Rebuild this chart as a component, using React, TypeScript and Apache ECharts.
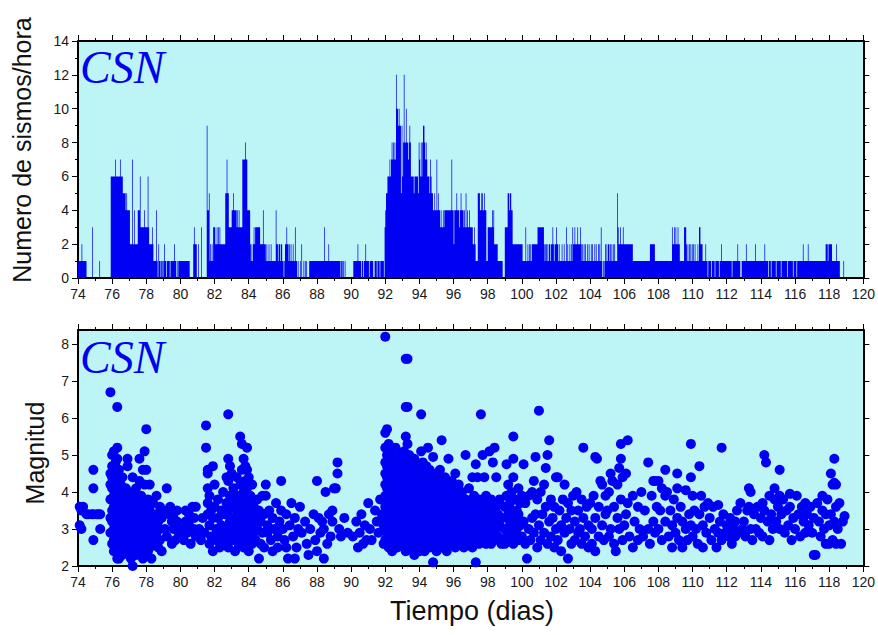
import React, { useEffect, useRef } from "react";
import * as echarts from "echarts";

// ---------- Histogram: earthquakes per hour (one string per day, 24 hourly counts, hex digits) ----------
const histFirstDay = 74;
const hourlyCountsByDay: string[] = [
  "111112111111000000003000", // 74
  "000000100000000000000066", // 75
  "666676666667666555545444", // 76
  "422272242222444633333433", // 77
  "336322223211114102110110", // 78
  "121101111011111211010111", // 79
  "111111111111100000232220", // 80
  "020003000000094451212133", // 81
  "322323232222222557553333", // 82
  "445444434343333777787744", // 83
  "442121232333333322224222", // 84
  "121121121111114221221221", // 85
  "101223221212112113110100", // 86
  "102001010100011111111111", // 87
  "111111111131111121111111", // 88
  "111111111011010100000000", // 89
  "000111111211110110112111", // 90
  "101111100111011101111103", // 91
  "455666767878787caa9a9959", // 92
  "68c88a887898666656666658", // 93
  "768689987876665765544544", // 94
  "745443433434444444444744", // 95
  "244454443454443435343343", // 96
  "333223211155544554454411", // 97
  "333333434222221111111000", // 98
  "333355455442222222222222", // 99
  "211113112121212222222233", // 100
  "333333321221212212232122", // 101
  "322121112112113121121213", // 102
  "223222322232121212112121", // 103
  "121211212112121310101212", // 104
  "122121212121115322322232", // 105
  "222222222222111111111111", // 106
  "111111111111222222211111", // 107
  "111111111111111111132232", // 108
  "322322111111333212121212", // 109
  "121211121332221111211011", // 110
  "110111101111101121111111", // 111
  "111111101111111211100111", // 112
  "111211111111111121111111", // 113
  "111112111101110111111011", // 114
  "111101111111101111111011", // 115
  "110111111112111111211111", // 116
  "111111111111111111122212", // 117
  "222211111121111000001000", // 118
];

// ---------- Scatter: magnitudes grouped by time (day, [magnitudes]) ----------
type Group = [number, number[]];
const quakes74to80: Group[] = [
  [74.1, [3.6, 3.1]], [74.2, [3.5, 3.0]], [74.3, [3.6]], [74.5, [3.4]], [74.6, [3.4]], [74.8, [3.4]],
  [74.9, [4.6, 4.1, 3.4, 2.7]], [75.1, [3.4]], [75.2, [3.4]], [75.3, [3.4, 3.0]],
  [75.9, [6.7, 4.5, 4.2, 3.8, 3.3, 2.9]],
  [76.0, [5.0, 4.7, 4.4, 4.1, 3.8, 3.5, 3.2, 2.9, 2.6]], [76.1, [5.1, 4.6, 4.3, 3.9, 3.6, 3.3, 3.0, 2.7, 2.4]],
  [76.2, [4.8, 4.5, 4.0, 3.7, 3.4, 3.1, 2.8, 2.5]], [76.3, [6.3, 5.2, 4.9, 4.4, 4.2, 3.8, 3.5, 3.2, 2.9, 2.6, 2.2]],
  [76.4, [4.6, 4.0, 3.6, 3.3, 3.0, 2.7, 2.4, 2.2]], [76.5, [4.2, 3.9, 3.4, 3.1, 2.8, 2.5]],
  [76.6, [4.4, 3.7, 3.2, 2.9, 2.6, 2.3]], [76.7, [3.9, 3.5, 3.0, 2.7, 2.4]], [76.8, [4.1, 3.6, 3.3, 2.8, 2.5]],
  [76.9, [4.9, 4.7, 3.8, 3.4, 3.0, 2.6]],
  [77.0, [4.0, 3.5, 3.1, 2.8, 2.4]], [77.1, [3.7, 3.3, 2.9, 2.6, 2.2]], [77.2, [4.4, 3.9, 3.2, 2.7, 2.0]],
  [77.3, [3.6, 3.0, 2.5]], [77.4, [4.1, 3.4, 2.8, 2.3]], [77.5, [3.8, 3.2, 2.9, 2.6]], [77.6, [4.9, 4.3, 3.6, 3.0, 2.5]],
  [77.7, [3.9, 3.3, 2.8, 2.4]], [77.8, [4.6, 3.5, 3.1, 2.2]], [77.9, [5.1, 4.2, 3.7, 2.9, 2.6]], [78.0, [5.7, 4.6, 3.4, 3.0, 2.7]],
  [78.1, [3.8, 3.2, 2.8, 2.4]], [78.2, [4.2, 3.5, 2.9, 2.5]], [78.3, [3.3, 3.0, 2.2]], [78.4, [3.7, 2.7]], [78.5, [3.1, 2.6]],
  [78.6, [3.9, 3.4, 2.9]], [78.7, [3.2, 2.5]], [78.8, [3.6, 3.0, 2.7]], [78.9, [3.3, 2.4]],
  [79.0, [3.5]], [79.1, [3.0]], [79.2, [4.1, 2.8]], [79.3, [3.4]], [79.4, [3.6]], [79.5, [3.2, 2.6]], [79.6, [3.0, 3.3]],
  [79.7, [2.7]], [79.8, [3.2, 3.5]], [79.9, [2.9]],
  [80.1, [3.0]], [80.2, [2.7]], [80.3, [3.5, 3.2]], [80.4, [2.9]], [80.5, [3.1, 3.4]], [80.6, [2.6]], [80.7, [3.6]],
  [80.8, [3.3, 3.0]], [80.9, [3.6, 2.8]],
];
const quakes81to91: Group[] = [
  [81.1, [3.0]], [81.2, [2.7]], [81.3, [3.3]], [81.4, [2.9]], [81.5, [5.8, 5.2]], [81.6, [4.6, 4.5, 4.1, 3.7, 3.4]],
  [81.7, [3.9, 3.1, 2.6]], [81.8, [3.5, 2.8]], [81.9, [4.7, 3.3, 2.4]],
  [82.0, [4.2, 3.6]], [82.1, [3.0, 2.7]], [82.2, [3.8, 3.3]], [82.3, [2.9, 2.5]], [82.4, [3.5, 3.1]], [82.5, [2.8, 4.0]],
  [82.6, [3.4, 2.6]], [82.7, [4.4, 3.7, 3.0]], [82.8, [6.1, 4.9, 4.3, 3.5, 2.5]], [82.9, [4.7, 3.9, 3.2, 2.8]],
  [83.0, [4.5, 3.6, 3.0]], [83.1, [4.1, 3.3, 2.7]], [83.2, [3.8, 3.1, 2.4]], [83.3, [4.4, 3.5, 2.9]], [83.4, [3.9, 3.2, 2.6]],
  [83.5, [5.5, 4.2, 3.7, 3.0]], [83.6, [5.3, 4.6, 3.4, 2.8]], [83.7, [4.9, 4.0, 3.6, 3.1, 2.5]],
  [83.8, [4.7, 4.3, 3.8, 3.3, 2.9]], [83.9, [5.2, 4.6, 4.1, 3.5, 3.0, 2.6]],
  [84.0, [4.4, 3.7, 3.2, 2.4]], [84.1, [3.9, 3.4, 2.8]], [84.2, [4.2, 3.1, 2.6]], [84.3, [3.6, 2.9]], [84.4, [3.3, 2.7]],
  [84.5, [3.8, 3.0]], [84.6, [3.5, 2.2]], [84.7, [3.2, 2.6]], [84.8, [3.9, 2.9]], [84.9, [3.4, 2.5]],
  [85.0, [4.2, 3.9]], [85.1, [3.1, 2.9]], [85.2, [3.5]], [85.3, [2.7]], [85.4, [3.3, 2.4]], [85.5, [3.0]], [85.6, [3.7]],
  [85.7, [2.8, 2.5]], [85.8, [3.2]], [85.9, [4.3, 3.5]],
  [86.0, [3.0]], [86.1, [2.7]], [86.2, [2.5, 3.4]], [86.3, [2.2]], [86.4, [3.1]], [86.5, [3.7]], [86.6, [2.8]],
  [86.7, [3.3, 2.2]], [86.8, [2.5]], [86.9, [3.0]],
  [87.0, [3.6]], [87.1, [2.9]], [87.3, [3.2]], [87.4, [2.6]], [87.5, [2.3]], [87.6, [3.0]], [87.8, [3.4]], [87.9, [2.7]],
  [88.0, [4.3, 2.4]], [88.1, [3.3]], [88.2, [2.9]], [88.3, [3.2]], [88.4, [2.2, 3.0]], [88.5, [4.0]], [88.6, [2.6]],
  [88.7, [3.4]], [88.8, [2.8]], [88.9, [3.5, 3.2]],
  [89.0, [4.1]], [89.1, [4.1]], [89.2, [4.8, 4.5]], [89.3, [3.0]], [89.4, [2.8]], [89.6, [3.3]], [89.8, [2.9]],
  [90.1, [2.8]], [90.3, [3.2]], [90.4, [2.5]], [90.5, [2.9]], [90.6, [3.4]], [90.7, [2.6]], [90.8, [3.1]], [90.9, [2.7]],
  [91.0, [3.7]], [91.1, [3.0]], [91.2, [2.7]], [91.4, [3.5]], [91.5, [3.2]], [91.6, [2.9]], [91.7, [3.8]], [91.8, [3.4]],
  [91.9, [2.6, 3.1]],
];
const quakes92to96: Group[] = [
  [92.0, [8.2, 5.6, 5.2, 4.8, 4.5, 4.2, 3.9, 3.6, 3.3, 3.0, 2.7]],
  [92.1, [5.7, 5.0, 4.7, 4.4, 4.1, 3.8, 3.5, 3.2, 2.9, 2.6]],
  [92.2, [5.3, 4.9, 4.6, 4.3, 4.0, 3.7, 3.4, 3.1, 2.8, 2.5]],
  [92.3, [5.1, 4.8, 4.5, 4.2, 3.9, 3.6, 3.3, 3.0, 2.7]],
  [92.4, [5.0, 4.6, 4.3, 4.0, 3.7, 3.4, 3.1, 2.8, 2.4]],
  [92.5, [4.8, 4.4, 4.1, 3.8, 3.5, 3.2, 2.9, 2.6]],
  [92.6, [5.2, 4.7, 4.2, 3.9, 3.6, 3.3, 3.0, 2.7]],
  [92.7, [4.9, 4.5, 4.0, 3.7, 3.4, 3.1, 2.8, 2.5]],
  [92.8, [4.6, 4.3, 3.9, 3.5, 3.2, 2.9, 2.6]],
  [92.9, [5.0, 4.4, 4.1, 3.8, 3.4, 3.0, 2.7]],
  [93.0, [4.8, 4.5, 4.1, 3.7, 3.3, 3.0, 2.6]],
  [93.1, [5.1, 4.6, 4.2, 3.9, 3.5, 3.2, 2.8]],
  [93.2, [7.6, 6.3, 5.5, 4.9, 4.4, 4.0, 3.6, 3.1, 2.7, 2.4]],
  [93.3, [7.6, 6.3, 5.3, 4.7, 4.3, 3.8, 3.4, 3.0, 2.6]],
  [93.4, [5.0, 4.5, 4.1, 3.7, 3.3, 2.9, 2.5]],
  [93.5, [4.8, 4.4, 4.0, 3.6, 3.2, 2.8]],
  [93.6, [4.6, 4.2, 3.8, 3.4, 3.0, 2.6]],
  [93.7, [4.9, 4.3, 3.9, 3.5, 3.1, 2.7, 2.3]],
  [93.8, [4.5, 4.1, 3.7, 3.3, 2.9, 2.5]],
  [93.9, [4.7, 4.2, 3.8, 3.4, 3.0, 2.6]],
  [94.0, [4.4, 4.0, 3.6, 3.2, 2.8, 2.4]],
  [94.1, [6.1, 5.1, 4.6, 4.1, 3.7, 3.3, 2.9]],
  [94.2, [4.8, 4.3, 3.9, 3.5, 3.1, 2.7]],
  [94.3, [4.5, 4.0, 3.6, 3.2, 2.8, 2.4]],
  [94.4, [4.7, 4.2, 3.8, 3.4, 3.0, 2.6]],
  [94.5, [5.2, 4.4, 3.9, 3.5, 3.1, 2.7]],
  [94.6, [4.6, 4.1, 3.7, 3.3, 2.9, 2.5]],
  [94.7, [4.3, 3.8, 3.4, 3.0, 2.6]],
  [94.8, [4.95, 4.4, 3.9, 3.5, 3.1, 2.7, 2.1]],
  [94.9, [4.2, 3.7, 3.3, 2.9, 2.5]],
  [95.0, [4.5, 4.0, 3.6, 3.2, 2.8, 2.4]],
  [95.1, [4.1, 3.7, 3.3, 2.9, 2.6]],
  [95.2, [4.6, 3.9, 3.5, 3.1, 2.7]],
  [95.3, [5.4, 4.3, 3.8, 3.4, 3.0, 2.5]],
  [95.4, [4.0, 3.6, 3.2, 2.8]],
  [95.5, [4.4, 3.9, 3.4, 3.0, 2.6]],
  [95.6, [4.1, 3.7, 3.3, 2.9, 2.4]],
  [95.7, [4.9, 4.2, 3.5, 3.1, 2.7]],
  [95.8, [3.9, 3.4, 3.0, 2.6]],
  [95.9, [4.3, 3.8, 3.2, 2.8]],
  [96.0, [4.1, 3.6, 3.1, 2.7]], [96.1, [4.5, 3.9, 3.3, 2.9, 2.5]], [96.2, [3.7, 3.2, 2.8]], [96.3, [4.2, 3.5, 3.0, 2.6]],
  [96.4, [3.9, 3.4, 2.9]], [96.5, [4.0, 3.3, 2.7]], [96.6, [3.6, 3.1, 2.5]], [96.7, [5.0, 3.8, 3.2, 2.8]],
  [96.8, [3.5, 3.0, 2.6]], [96.9, [4.1, 3.4, 2.9]],
];
const quakes97to104: Group[] = [
  [97.0, [3.7, 3.2, 2.7]], [97.1, [4.4, 3.5, 3.0, 2.5]], [97.2, [3.9, 3.3, 2.8]], [97.3, [4.75, 3.6, 3.1, 2.1]],
  [97.4, [4.4, 3.4, 2.9]], [97.5, [3.8, 3.2, 2.6]], [97.6, [6.1, 3.5, 3.0]], [97.7, [5.0, 3.7, 3.3, 2.8]],
  [97.8, [4.4, 3.4, 2.9]], [97.9, [3.9, 3.1, 2.6]],
  [98.0, [3.6, 3.0]], [98.1, [5.1, 3.3, 2.8]], [98.2, [3.8, 3.1, 2.6]], [98.3, [4.8, 3.5, 2.9]], [98.4, [5.2, 3.2, 2.7]],
  [98.5, [4.4, 3.6, 3.0]], [98.6, [3.4, 2.8]], [98.7, [3.8, 3.1]], [98.8, [3.3, 2.6]],
  [99.0, [3.6, 3.0, 2.6]], [99.1, [4.75, 3.9, 3.3, 2.8]], [99.2, [4.2, 3.4, 3.0]], [99.3, [3.7, 3.1, 2.7]],
  [99.4, [4.0, 3.5, 2.9]], [99.5, [5.5, 4.9, 4.4, 3.2, 2.6]], [99.6, [3.8, 3.3, 2.8]], [99.7, [3.5, 3.0]],
  [99.8, [4.1, 3.4, 2.7]], [99.9, [3.7, 3.1]],
  [100.0, [3.9, 2.8]], [100.1, [4.75, 3.2]], [100.2, [3.7, 2.6]], [100.3, [2.2]], [100.4, [3.9, 3.0]],
  [100.5, [2.7]], [100.6, [4.0, 3.3]], [100.7, [4.3, 2.9]], [100.8, [4.95, 3.4]], [100.9, [3.8, 2.5]],
  [101.0, [6.2, 3.1]], [101.1, [4.0, 2.7]], [101.2, [3.4]], [101.3, [4.2, 2.9]], [101.4, [4.65, 3.6]],
  [101.5, [5.0, 2.6]], [101.6, [5.4, 3.2]], [101.7, [3.8, 2.8]], [101.8, [3.3]], [101.9, [3.6, 2.5]],
  [102.0, [4.4, 3.0]], [102.1, [4.4, 2.7]], [102.2, [3.5]], [102.3, [3.1, 2.4]], [102.4, [3.8]],
  [102.5, [4.2, 2.9]], [102.6, [3.3]], [102.7, [3.7, 2.2]], [102.8, [3.0]], [102.9, [3.5, 2.6]],
  [103.0, [3.9]], [103.1, [3.2, 2.7]], [103.2, [4.0]], [103.3, [3.5, 2.9]], [103.4, [3.0]],
  [103.5, [3.8, 2.6]], [103.6, [5.2, 3.3]], [103.7, [2.8]], [103.8, [3.6]], [103.9, [3.1, 2.5]],
  [104.0, [3.7]], [104.1, [3.0, 2.6]], [104.2, [3.9]], [104.3, [4.95, 3.3, 2.4]], [104.4, [4.9]],
  [104.5, [3.6, 2.8]], [104.6, [4.3]], [104.7, [4.2, 3.1]], [104.8, [2.7]], [104.9, [3.9, 3.4]],
];
const quakes105to112: Group[] = [
  [105.0, [3.5]], [105.1, [4.0, 2.8]], [105.2, [4.5, 3.0]], [105.3, [4.3]], [105.4, [3.6, 2.6]],
  [105.5, [2.4]], [105.6, [4.2, 3.3]], [105.7, [4.65, 3.0]], [105.8, [5.3, 4.9, 3.8]], [105.9, [4.4, 2.7]],
  [106.0, [3.1]], [106.1, [4.5, 3.4]], [106.2, [5.4, 3.7]], [106.3, [2.8]], [106.5, [3.9, 2.5]],
  [106.6, [3.2]], [106.8, [3.6, 2.7]], [106.9, [3.0]],
  [107.0, [4.0]], [107.1, [2.8]], [107.2, [3.5]], [107.4, [4.8, 3.0]], [107.5, [2.6]], [107.6, [3.9]],
  [107.7, [4.3, 3.2]], [107.8, [4.3, 2.9]], [107.9, [3.6]],
  [108.0, [4.3, 3.0]], [108.1, [3.5]], [108.2, [4.1, 2.7]], [108.4, [4.6, 3.9, 3.2]], [108.5, [4.0]],
  [108.6, [2.8]], [108.7, [3.5]], [108.8, [3.1, 2.5]], [108.9, [3.8]],
  [109.0, [2.9]], [109.1, [4.5, 4.1, 3.3]], [109.2, [2.7]], [109.3, [3.6]], [109.4, [3.2, 2.5]],
  [109.6, [4.05, 3.0]], [109.7, [2.7]], [109.8, [3.4]], [109.9, [5.3, 4.4, 3.1]],
  [110.0, [3.9, 2.8]], [110.1, [3.5]], [110.2, [3.0]], [110.3, [2.6]], [110.4, [4.7, 3.4]], [110.5, [3.9]],
  [110.6, [3.1, 2.5]], [110.7, [3.6]], [110.8, [2.9]], [110.9, [3.7]],
  [111.0, [3.3]], [111.1, [2.7]], [111.2, [3.6]], [111.3, [3.0]], [111.4, [2.5]], [111.5, [3.65, 2.9]],
  [111.6, [3.2]], [111.7, [5.2, 2.7]], [111.8, [3.4]], [111.9, [2.9]],
  [112.0, [3.1]], [112.1, [2.8]], [112.2, [3.3]], [112.3, [2.6]], [112.4, [3.0]], [112.5, [2.8, 3.2]],
  [112.6, [3.5]], [112.7, [2.9]], [112.8, [3.7]], [112.9, [3.0]],
];
const quakes113to119: Group[] = [
  [113.0, [3.2]], [113.1, [2.8]], [113.2, [3.5]], [113.3, [4.1, 3.6]], [113.4, [4.0, 3.0]], [113.5, [2.7]],
  [113.6, [3.4]], [113.7, [3.0]], [113.8, [3.6]], [113.9, [2.9]],
  [114.0, [3.3]], [114.1, [3.7, 2.8]], [114.2, [5.0, 3.5]], [114.3, [4.8]], [114.4, [3.2]], [114.5, [3.9, 2.7]],
  [114.6, [3.4]], [114.7, [3.0]], [114.8, [4.1, 3.8]], [114.9, [3.2]],
  [115.0, [3.6]], [115.1, [4.6, 3.9, 3.0]], [115.2, [3.4]], [115.3, [3.8]], [115.4, [2.9]], [115.5, [3.5]],
  [115.6, [3.1]], [115.7, [3.95, 3.6]], [115.8, [2.7]], [115.9, [3.3]],
  [116.0, [3.0]], [116.1, [3.9]], [116.2, [3.4]], [116.3, [2.8]], [116.4, [3.6]], [116.5, [3.2]],
  [116.6, [3.7, 2.9]], [116.7, [3.4]], [116.8, [3.1]], [116.9, [3.6]],
  [117.0, [2.9]], [117.1, [3.3, 2.3]], [117.2, [2.3]], [117.3, [3.7]], [117.4, [3.2]], [117.5, [2.8]],
  [117.6, [3.9, 3.5]], [117.7, [3.0]], [117.8, [3.4, 2.6]], [117.9, [3.8]],
  [118.0, [3.1, 2.6]], [118.1, [4.5, 3.4]], [118.2, [4.2, 2.7]], [118.3, [4.9, 4.25, 3.2]],
  [118.4, [4.2, 3.6, 2.6]], [118.5, [3.0]], [118.6, [3.7]], [118.7, [2.6]], [118.8, [3.2]], [118.9, [3.35]],
];

const xTickDays = { min: 74, max: 120, step: 2 };
const countAxis = { min: 0, max: 14, step: 2 };
const magnitudeTicks = [2, 3, 4, 5, 6, 7, 8];

const BLUE = "#0000f2";
const BG = "#bdf5f7";
const SANS = "Liberation Sans";

function buildHistogram(): number[][] {
  const pts: number[][] = [];
  hourlyCountsByDay.forEach((s, di) => {
    for (let h = 0; h < s.length; h++) {
      pts.push([histFirstDay + di + h / 24, parseInt(s[h], 16)]);
    }
  });
  pts.push([histFirstDay + hourlyCountsByDay.length, 0]);
  return pts;
}

function buildQuakes(): number[][] {
  const all = [
    ...quakes74to80, ...quakes81to91, ...quakes92to96,
    ...quakes97to104, ...quakes105to112, ...quakes113to119,
  ];
  const pts: number[][] = [];
  all.forEach(([d, ms]) => ms.forEach((m) => pts.push([d, m])));
  return pts;
}

function xAxisCfg(gridIndex: number, position: string, showLabels: boolean) {
  return {
    type: "value", gridIndex, position,
    min: xTickDays.min, max: xTickDays.max, interval: xTickDays.step,
    axisLine: { show: true, onZero: false, lineStyle: { color: "#000", width: 2 } },
    axisTick: { show: true, inside: false, length: 6, lineStyle: { color: "#000", width: 1 } },
    minorTick: { show: true, splitNumber: 2, length: 3, lineStyle: { color: "#000", width: 1 } },
    axisLabel: { show: showLabels, fontSize: 14, color: "#1a1a1a", fontFamily: SANS, margin: 9 },
    splitLine: { show: false },
    minorSplitLine: { show: false },
  };
}

export default function App() {
  const ref = useRef<HTMLDivElement>(null);
  useEffect(() => {
    if (!ref.current) return;
    const chart = echarts.init(ref.current, null, { renderer: "svg" });
    const countY = (gridIndex: number, position: string, showLabels: boolean) => ({
      type: "value", gridIndex, position,
      min: countAxis.min, max: countAxis.max, interval: countAxis.step,
      axisLine: { show: true, onZero: false, lineStyle: { color: "#000", width: 2 } },
      axisTick: { show: true, length: 6, lineStyle: { color: "#000", width: 1 } },
      minorTick: { show: true, splitNumber: 2, length: 3, lineStyle: { color: "#000", width: 1 } },
      axisLabel: { show: showLabels, fontSize: 14, color: "#1a1a1a", fontFamily: SANS, margin: 9 },
      splitLine: { show: false },
    });
    const magY = (gridIndex: number, position: string, showLabels: boolean) => ({
      type: "value", gridIndex, position,
      min: 2, max: 8.38, interval: 1,
      axisLine: { show: true, onZero: false, lineStyle: { color: "#000", width: 2 } },
      axisTick: { show: true, length: 6, customValues: magnitudeTicks, lineStyle: { color: "#000", width: 1 } },
      axisLabel: {
        show: showLabels, fontSize: 14, color: "#1a1a1a", fontFamily: SANS, margin: 9,
        customValues: magnitudeTicks,
      },
      splitLine: { show: false },
    });
    chart.setOption({
      animation: false,
      backgroundColor: "#ffffff",
      grid: [
        { left: 78, top: 41, width: 787, height: 237, show: true, backgroundColor: BG, borderWidth: 0 },
        { left: 78, top: 330, width: 787, height: 236, show: true, backgroundColor: BG, borderWidth: 0 },
      ],
      xAxis: [
        xAxisCfg(0, "bottom", true),
        xAxisCfg(0, "top", false),
        xAxisCfg(1, "bottom", true),
        xAxisCfg(1, "top", false),
      ],
      yAxis: [
        countY(0, "left", true),
        countY(0, "right", false),
        magY(1, "left", true),
        magY(1, "right", false),
      ],
      series: [
        {
          type: "line", xAxisIndex: 0, yAxisIndex: 0, data: buildHistogram(),
          step: "end", symbol: "none", showSymbol: false,
          lineStyle: { width: 0 }, areaStyle: { color: BLUE, opacity: 1 }, silent: true,
        },
        {
          type: "scatter", xAxisIndex: 2, yAxisIndex: 2, data: buildQuakes(),
          symbol: "circle", symbolSize: 10, itemStyle: { color: BLUE, opacity: 1 }, silent: true,
        },
      ],
      graphic: [
        { type: "text", x: 80, y: 67, z: 100, style: { text: "CSN", fill: BLUE, font: "italic 46px 'Liberation Serif'", textVerticalAlign: "middle" } },
        { type: "text", x: 80, y: 357, z: 100, style: { text: "CSN", fill: BLUE, font: "italic 46px 'Liberation Serif'", textVerticalAlign: "middle" } },
        { type: "text", x: 22, y: 150, rotation: Math.PI / 2, z: 100, style: { text: "Numero de sismos/hora", fill: "#111", font: "25px 'Liberation Sans'", textAlign: "center", textVerticalAlign: "middle" } },
        { type: "text", x: 35, y: 453, rotation: Math.PI / 2, z: 100, style: { text: "Magnitud", fill: "#111", font: "25px 'Liberation Sans'", textAlign: "center", textVerticalAlign: "middle" } },
        { type: "text", x: 472, y: 611, z: 100, style: { text: "Tiempo (dias)", fill: "#111", font: "27px 'Liberation Sans'", textAlign: "center", textVerticalAlign: "middle" } },
      ],
    });
    return () => chart.dispose();
  }, []);
  return <div ref={ref} style={{ position: "fixed", left: 0, top: 0, width: 878, height: 635, background: "#fff" }} />;
}
